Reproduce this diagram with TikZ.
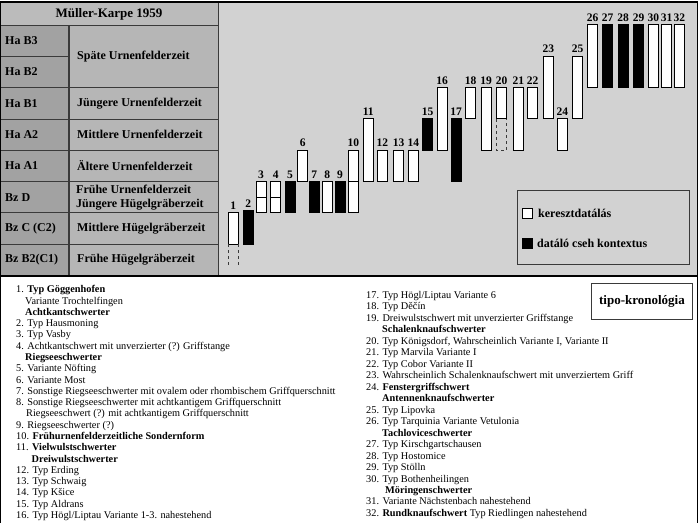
\documentclass[tikz,border=0pt]{standalone}
\usepackage{fontspec}
\setmainfont{Liberation Serif}
\definecolor{chartbg}{HTML}{D2D2D2}
\definecolor{leftc}{HTML}{A2A2A2}
\definecolor{rightc}{HTML}{B6B6B6}
\definecolor{hdrc}{HTML}{BBBBBB}
\definecolor{gline}{HTML}{3A3A3A}
\newcommand\swd[6]{%
  \node[#5, minimum height={#4-#3}, anchor=north west] (b#1) at (#2,#3) {};
  \node[numlab, anchor=base] (n#1) at ([yshift=3.5pt]b#1.north) {#6};}
\begin{document}
\begin{tikzpicture}[x=1pt,y=-1pt,
  tbl/.style={font=\fontsize{12}{14}\selectfont\bfseries, inner sep=0, anchor=west, align=left},
  wbar/.style={draw=black, fill=white, line width=0.9pt, inner sep=0, outer sep=0, minimum width=10pt},
  bbar/.style={draw=black, fill=black, line width=0.9pt, inner sep=0, outer sep=0, minimum width=10pt},
  numlab/.style={font=\fontsize{11.5}{12}\selectfont\bfseries, inner sep=0},
  li/.style={font=\fontsize{10.3}{11}\selectfont, inner sep=0, anchor=base west},
  legtxt/.style={font=\fontsize{12}{13}\selectfont\bfseries, inner sep=0, anchor=west},
  gridl/.style={draw=gline, line width=0.8pt},
  dashl/.style={draw=gline, line width=0.7pt, dash pattern=on 3pt off 3pt}]
\useasboundingbox (0,0) rectangle (700,522);
% backgrounds
\fill[chartbg] (218,2) rectangle (697.3,276);
\fill[leftc] (0.7,25) rectangle (69,276);
\fill[rightc] (69,25) rectangle (218,276);
\fill[hdrc] (0.7,2) rectangle (218,25);
% table grid
\draw[gridl] (0.7,25) -- (218,25);
\draw[gridl] (0.7,56.3) -- (69,56.3);
\foreach \k in {2,...,7} \draw[gridl] (0.7,{25+31.3*\k}) -- (218,{25+31.3*\k});
\draw[draw=gline, line width=1.4pt] (69,25) -- (69,276);
\draw[gridl] (218,2) -- (218,276);
% outer frame
\draw[black, line width=1.3pt] (0.7,2) rectangle (697.3,540);
\draw[black, line width=1.2pt] (0.7,276) -- (697.3,276);
% table text
\node[font=\fontsize{13}{14}\selectfont\bfseries, inner sep=0] (hdr) at (109,14) {Müller-Karpe 1959};
\node[tbl] (hb3) at (5,40.65) {Ha B3};
\node[tbl] (hb2) at (5,71.95) {Ha B2};
\node[tbl] (hb1) at (5,103.25) {Ha B1};
\node[tbl] (ha2) at (5,134.55) {Ha A2};
\node[tbl] (ha1) at (5,165.85) {Ha A1};
\node[tbl] (bzd) at (5,197.15) {Bz D};
\node[tbl] (bzc) at (5,228.45) {Bz C (C2)};
\node[tbl] (bzb) at (5,259.75) {Bz B2(C1)};
\node[tbl] (tsp) at (77,56.3) {Späte Urnenfelderzeit};
\node[tbl] (tju) at (77,103.25) {Jüngere Urnenfelderzeit};
\node[tbl] (tmi) at (77,134.55) {Mittlere Urnenfelderzeit};
\node[tbl] (tal) at (77,165.85) {Ältere Urnenfelderzeit};
\node[tbl] (tfr) at (76,197.15) {Frühe Urnenfelderzeit\\Jüngere Hügelgräberzeit};
\node[tbl] (tmh) at (77,228.45) {Mittlere Hügelgräberzeit};
\node[tbl] (tfh) at (77,259.75) {Frühe Hügelgräberzeit};
% bars
\swd{1}{228.3}{212.8}{244.1}{wbar}{1}
\swd{2}{243.3}{210.8}{244.1}{bbar}{2}
\swd{3}{256}{181.5}{212.8}{wbar}{3}
\swd{4}{270.7}{181.5}{212.8}{wbar}{4}
\swd{5}{285}{181.5}{212.8}{bbar}{5}
\swd{6}{297.7}{150.2}{181.5}{wbar}{6}
\swd{7}{309.3}{181.5}{212.8}{bbar}{7}
\swd{8}{322.3}{181.5}{212.8}{wbar}{8}
\swd{9}{335}{181.5}{212.8}{bbar}{9}
\swd{10}{348.3}{150.2}{212.8}{wbar}{10}
\swd{11}{363.3}{118.9}{181.5}{wbar}{11}
\swd{12}{377.3}{150.2}{181.5}{wbar}{12}
\swd{13}{393.7}{150.2}{181.5}{wbar}{13}
\swd{14}{408.3}{150.2}{181.5}{wbar}{14}
\swd{15}{422.7}{118.9}{150.2}{bbar}{15}
\swd{16}{437}{87.6}{150.2}{wbar}{16}
\swd{17}{451}{118.9}{181.5}{bbar}{17}
\swd{18}{465.5}{87.6}{118.9}{wbar}{18}
\swd{19}{481}{87.6}{150.2}{wbar}{19}
\swd{20}{496.7}{87.6}{118.9}{wbar}{20}
\swd{21}{513.3}{87.6}{150.2}{wbar}{21}
\swd{22}{527.7}{87.6}{118.9}{wbar}{22}
\swd{23}{543.3}{56.3}{118.9}{wbar}{23}
\swd{24}{557.3}{118.9}{150.2}{wbar}{24}
\swd{25}{572.7}{56.3}{118.9}{wbar}{25}
\swd{26}{587.7}{24.5}{87.6}{wbar}{26}
\swd{27}{602.7}{24.5}{87.6}{bbar}{27}
\swd{28}{618}{24.5}{87.6}{bbar}{28}
\swd{29}{633.7}{24.5}{87.6}{bbar}{29}
\swd{30}{648.3}{24.5}{87.6}{wbar}{30}
\swd{31}{661.7}{24.5}{87.6}{wbar}{31}
\swd{32}{674.3}{24.5}{87.6}{wbar}{32}
% dividers
\draw[black, line width=0.8pt] (b3.west) -- (b3.east);
\draw[black, line width=0.8pt] (b4.west) -- (b4.east);
\draw[black, line width=0.8pt] (b10.west) -- (b10.east);
% dashed extensions
\draw[dashl] (b1.south west) -- ++(0,23);
\draw[dashl] (b1.south east) -- ++(0,23);
\draw[dashl] (b20.south west) -- ++(0,31.3) -- ++(10,0) -- ++(0,-31.3);
% legend
\node[draw=gline, line width=0.9pt, fill=chartbg, minimum width=172pt, minimum height=74.3pt, inner sep=0, anchor=north west] (leg) at (517.3,190) {};
\node[wbar, minimum height=10pt, anchor=north west] (lw) at (522.3,208.5) {};
\node[bbar, minimum height=10pt, anchor=north west] (lb) at (522.3,238.3) {};
\node[legtxt] (lwt) at (538,213.5) {keresztdatálás};
\node[legtxt] (lbt) at (537,243) {datáló cseh kontextus};
% tipo box
\node[draw=gline, line width=0.9pt, fill=white, minimum width=101.6pt, minimum height=35.7pt, inner sep=0, anchor=north west] (tipo) at (590.7,283.3) {};
\node[font=\fontsize{13}{14}\selectfont\bfseries, inner sep=0] (tipot) at (tipo.center) {tipo-kronológia};
% list left
\foreach \t [count=\i from 0] in {
  {1. \textbf{Typ Göggenhofen}},
  {\hspace*{9pt}Variante Trochtelfingen},
  {\hspace*{9pt}\textbf{Achtkantschwerter}},
  {2. Typ Hausmoning},
  {3. Typ Vasby},
  {4. Achtkantschwert mit unverzierter (?) Griffstange},
  {\hspace*{9pt}\textbf{Riegseeschwerter}},
  {5. Variante Nöfting},
  {6. Variante Most},
  {7. Sonstige Riegseeschwerter mit ovalem oder rhombischem Griffquerschnitt},
  {8. Sonstige Riegseeschwerter mit achtkantigem Griffquerschnitt},
  {\hspace*{10pt}Riegseeschwert (?) mit achtkantigem Griffquerschnitt},
  {9. Riegseeschwerter (?)},
  {10. \textbf{Frühurnenfelderzeitliche Sondernform}},
  {11. \textbf{Vielwulstschwerter}},
  {\hspace*{15.5pt}\textbf{Dreiwulstschwerter}},
  {12. Typ Erding},
  {13. Typ Schwaig},
  {14. Typ Kšice},
  {15. Typ Aldrans},
  {16. Typ Högl/Liptau Variante 1-3. nahestehend}}
  \node[li] (L\i) at (16,{292.8+11.28*\i}) {\t};
% list right
\foreach \t [count=\i from 0] in {
  {17. Typ Högl/Liptau Variante 6},
  {18. Typ Děčín},
  {19. Dreiwulstschwert mit unverzierter Griffstange},
  {\hspace*{16pt}\textbf{Schalenknaufschwerter}},
  {20. Typ Königsdorf, Wahrscheinlich Variante I, Variante II},
  {21. Typ Marvila Variante I},
  {22. Typ Cobor Variante II},
  {23. Wahrscheinlich Schalenknaufschwert mit unverziertem Griff},
  {24. \textbf{Fenstergriffschwert}},
  {\hspace*{16pt}\textbf{Antennenknaufschwerter}},
  {25. Typ Lipovka},
  {26. Typ Tarquinia Variante Vetulonia},
  {\hspace*{16pt}\textbf{Tachloviceschwerter}},
  {27. Typ Kirschgartschausen},
  {28. Typ Hostomice},
  {29. Typ Stölln},
  {30. Typ Bothenheilingen},
  {\hspace*{19pt}\textbf{Möringenschwerter}},
  {31. Variante Nächstenbach nahestehend},
  {32. \textbf{Rundknaufschwert} Typ Riedlingen nahestehend}}
  \node[li] (R\i) at (366,{298.5+11.47*\i}) {\t};
\end{tikzpicture}
\end{document}
